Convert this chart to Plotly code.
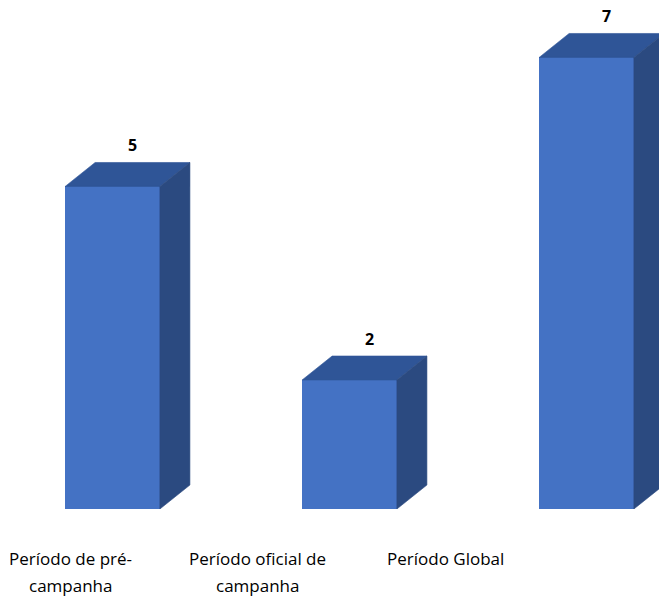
import plotly.graph_objects as go

# Data
categories = ["Período de pré-campanha", "Período oficial de campanha", "Período Global"]
label_lines = [["Período de pré-", "campanha"], ["Período oficial de", "campanha"], ["Período Global"]]
values = [5, 2, 7]

# Styling / geometry of the pseudo-3D columns (data units)
FRONT = "#4472C4"
TOP = "#2F5597"
SIDE = "#2B4A80"
BAR_W = 0.40      # column width on the x scale
DEPTH_X = 0.1266  # receding depth, horizontal component
DEPTH_Y = 0.372   # receding depth, vertical component

xs = list(range(len(values)))

fig = go.Figure()

# Front faces
fig.add_trace(go.Bar(
    x=xs, y=values, width=BAR_W,
    marker=dict(color=FRONT, line=dict(width=0)),
    hoverinfo="skip", showlegend=False,
))

# Top and side faces as filled polygons in data coordinates
for x, v in zip(xs, values):
    l, r = x - BAR_W / 2, x + BAR_W / 2
    fig.add_trace(go.Scatter(
        x=[l, l + DEPTH_X, r + DEPTH_X, r, l],
        y=[v, v + DEPTH_Y, v + DEPTH_Y, v, v],
        fill="toself", fillcolor=TOP, mode="lines",
        line=dict(color=TOP, width=0.6),
        hoverinfo="skip", showlegend=False,
    ))
    fig.add_trace(go.Scatter(
        x=[r, r, r + DEPTH_X, r + DEPTH_X, r],
        y=[0, v, v + DEPTH_Y, DEPTH_Y, 0],
        fill="toself", fillcolor=SIDE, mode="lines",
        line=dict(color=SIDE, width=0.6),
        hoverinfo="skip", showlegend=False,
    ))

# Value labels above each column
annotations = []
for x, v in zip(xs, values):
    annotations.append(dict(
        x=x + DEPTH_X * 0.65, y=v + DEPTH_Y, xref="x", yref="y",
        text=f"<b>{v}</b>", showarrow=False,
        yanchor="bottom", yshift=4,
        font=dict(family="Open Sans", size=16, color="#000000"),
    ))

# Category labels on a secondary category axis
for cat, lines in zip(categories, label_lines):
    for j, line in enumerate(lines):
        annotations.append(dict(
            x=cat, y=0, xref="x2", yref="paper",
            text=line, showarrow=False,
            yanchor="middle", yshift=-49 - 27 * j,
            font=dict(family="Open Sans", size=17, color="#000000"),
        ))

# Invisible helper trace so the secondary axis knows its categories
fig.add_trace(go.Scatter(
    x=categories, y=[0] * len(categories), xaxis="x2", yaxis="y",
    mode="markers", marker=dict(opacity=0), hoverinfo="skip", showlegend=False,
))

fig.update_layout(
    width=659, height=596,
    margin=dict(l=0, r=0, t=0, b=87),
    paper_bgcolor="white", plot_bgcolor="white",
    xaxis=dict(range=[-0.4747, 2.3059], visible=False, fixedrange=True),
    xaxis2=dict(type="category", categoryarray=categories, categoryorder="array",
                range=[-0.3733, 3.1413], overlaying="x", visible=False),
    yaxis=dict(range=[0, 7.891], visible=False, fixedrange=True),
    annotations=annotations,
    bargap=0,
)

fig.write_html("out.html")
